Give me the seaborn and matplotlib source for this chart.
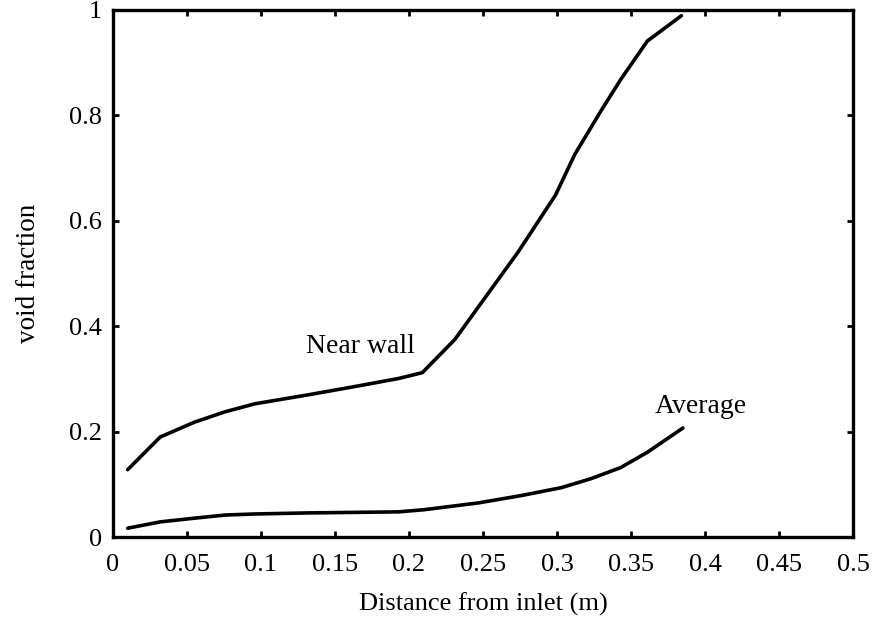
import matplotlib
matplotlib.use("Agg")
import matplotlib.pyplot as plt
import seaborn as sns
import pandas as pd

near_x = [0.010, 0.032, 0.055, 0.076, 0.096, 0.132, 0.166, 0.193, 0.209, 0.231,
          0.274, 0.299, 0.312, 0.330, 0.343, 0.361, 0.384]
near_y = [0.128, 0.190, 0.218, 0.238, 0.253, 0.270, 0.287, 0.301, 0.312, 0.375,
          0.542, 0.649, 0.726, 0.810, 0.868, 0.941, 0.989]
avg_x = [0.010, 0.032, 0.055, 0.076, 0.096, 0.132, 0.193, 0.210, 0.247, 0.276,
         0.303, 0.323, 0.343, 0.361, 0.385]
avg_y = [0.017, 0.029, 0.036, 0.042, 0.044, 0.046, 0.048, 0.052, 0.065, 0.079,
         0.094, 0.111, 0.132, 0.161, 0.207]
x_ticks = [0, 0.05, 0.1, 0.15, 0.2, 0.25, 0.3, 0.35, 0.4, 0.45, 0.5]
x_ticklabels = ["0", "0.05", "0.1", "0.15", "0.2", "0.25", "0.3", "0.35", "0.4", "0.45", "0.5"]
y_ticks = [0, 0.2, 0.4, 0.6, 0.8, 1]
y_ticklabels = ["0", "0.2", "0.4", "0.6", "0.8", "1"]

sns.set_style("ticks")
plt.rcParams['font.family'] = ['Liberation Serif', 'DejaVu Serif']
plt.rcParams['text.color'] = 'black'
plt.rcParams['axes.labelcolor'] = 'black'

df = pd.concat([
    pd.DataFrame({"x": near_x, "y": near_y, "series": "Near wall"}),
    pd.DataFrame({"x": avg_x, "y": avg_y, "series": "Average"}),
])

fig = plt.figure(figsize=(8.75, 6.21), dpi=100)
ax = fig.add_axes([0.129, 0.135, 0.846, 0.849])
sns.lineplot(data=df, x="x", y="y", units="series", estimator=None, sort=False,
             color="black", linewidth=2.6, ax=ax, legend=False)
ax.set_xlim(0, 0.5)
ax.set_ylim(0, 1)
ax.set_xticks(x_ticks)
ax.set_xticklabels(x_ticklabels)
ax.set_yticks(y_ticks)
ax.set_yticklabels(y_ticklabels)
ax.tick_params(direction="in", length=4, width=2, labelsize=19, top=True, right=True,
               color="black", labelcolor="black")
ax.tick_params(axis="x", pad=12)
ax.tick_params(axis="y", pad=8)
for s in ax.spines.values():
    s.set_linewidth(2.4)
    s.set_color("black")
ax.set_xlabel("Distance from inlet (m)", fontsize=19, labelpad=12, color="black")
ax.set_ylabel("void fraction", fontsize=19.5, labelpad=20, color="black")
ax.text(0.167, 0.362, "Near wall", fontsize=20, ha="center", va="center", color="black")
ax.text(0.397, 0.247, "Average", fontsize=20, ha="center", va="center", color="black")
fig.savefig("out.png", dpi=100)
